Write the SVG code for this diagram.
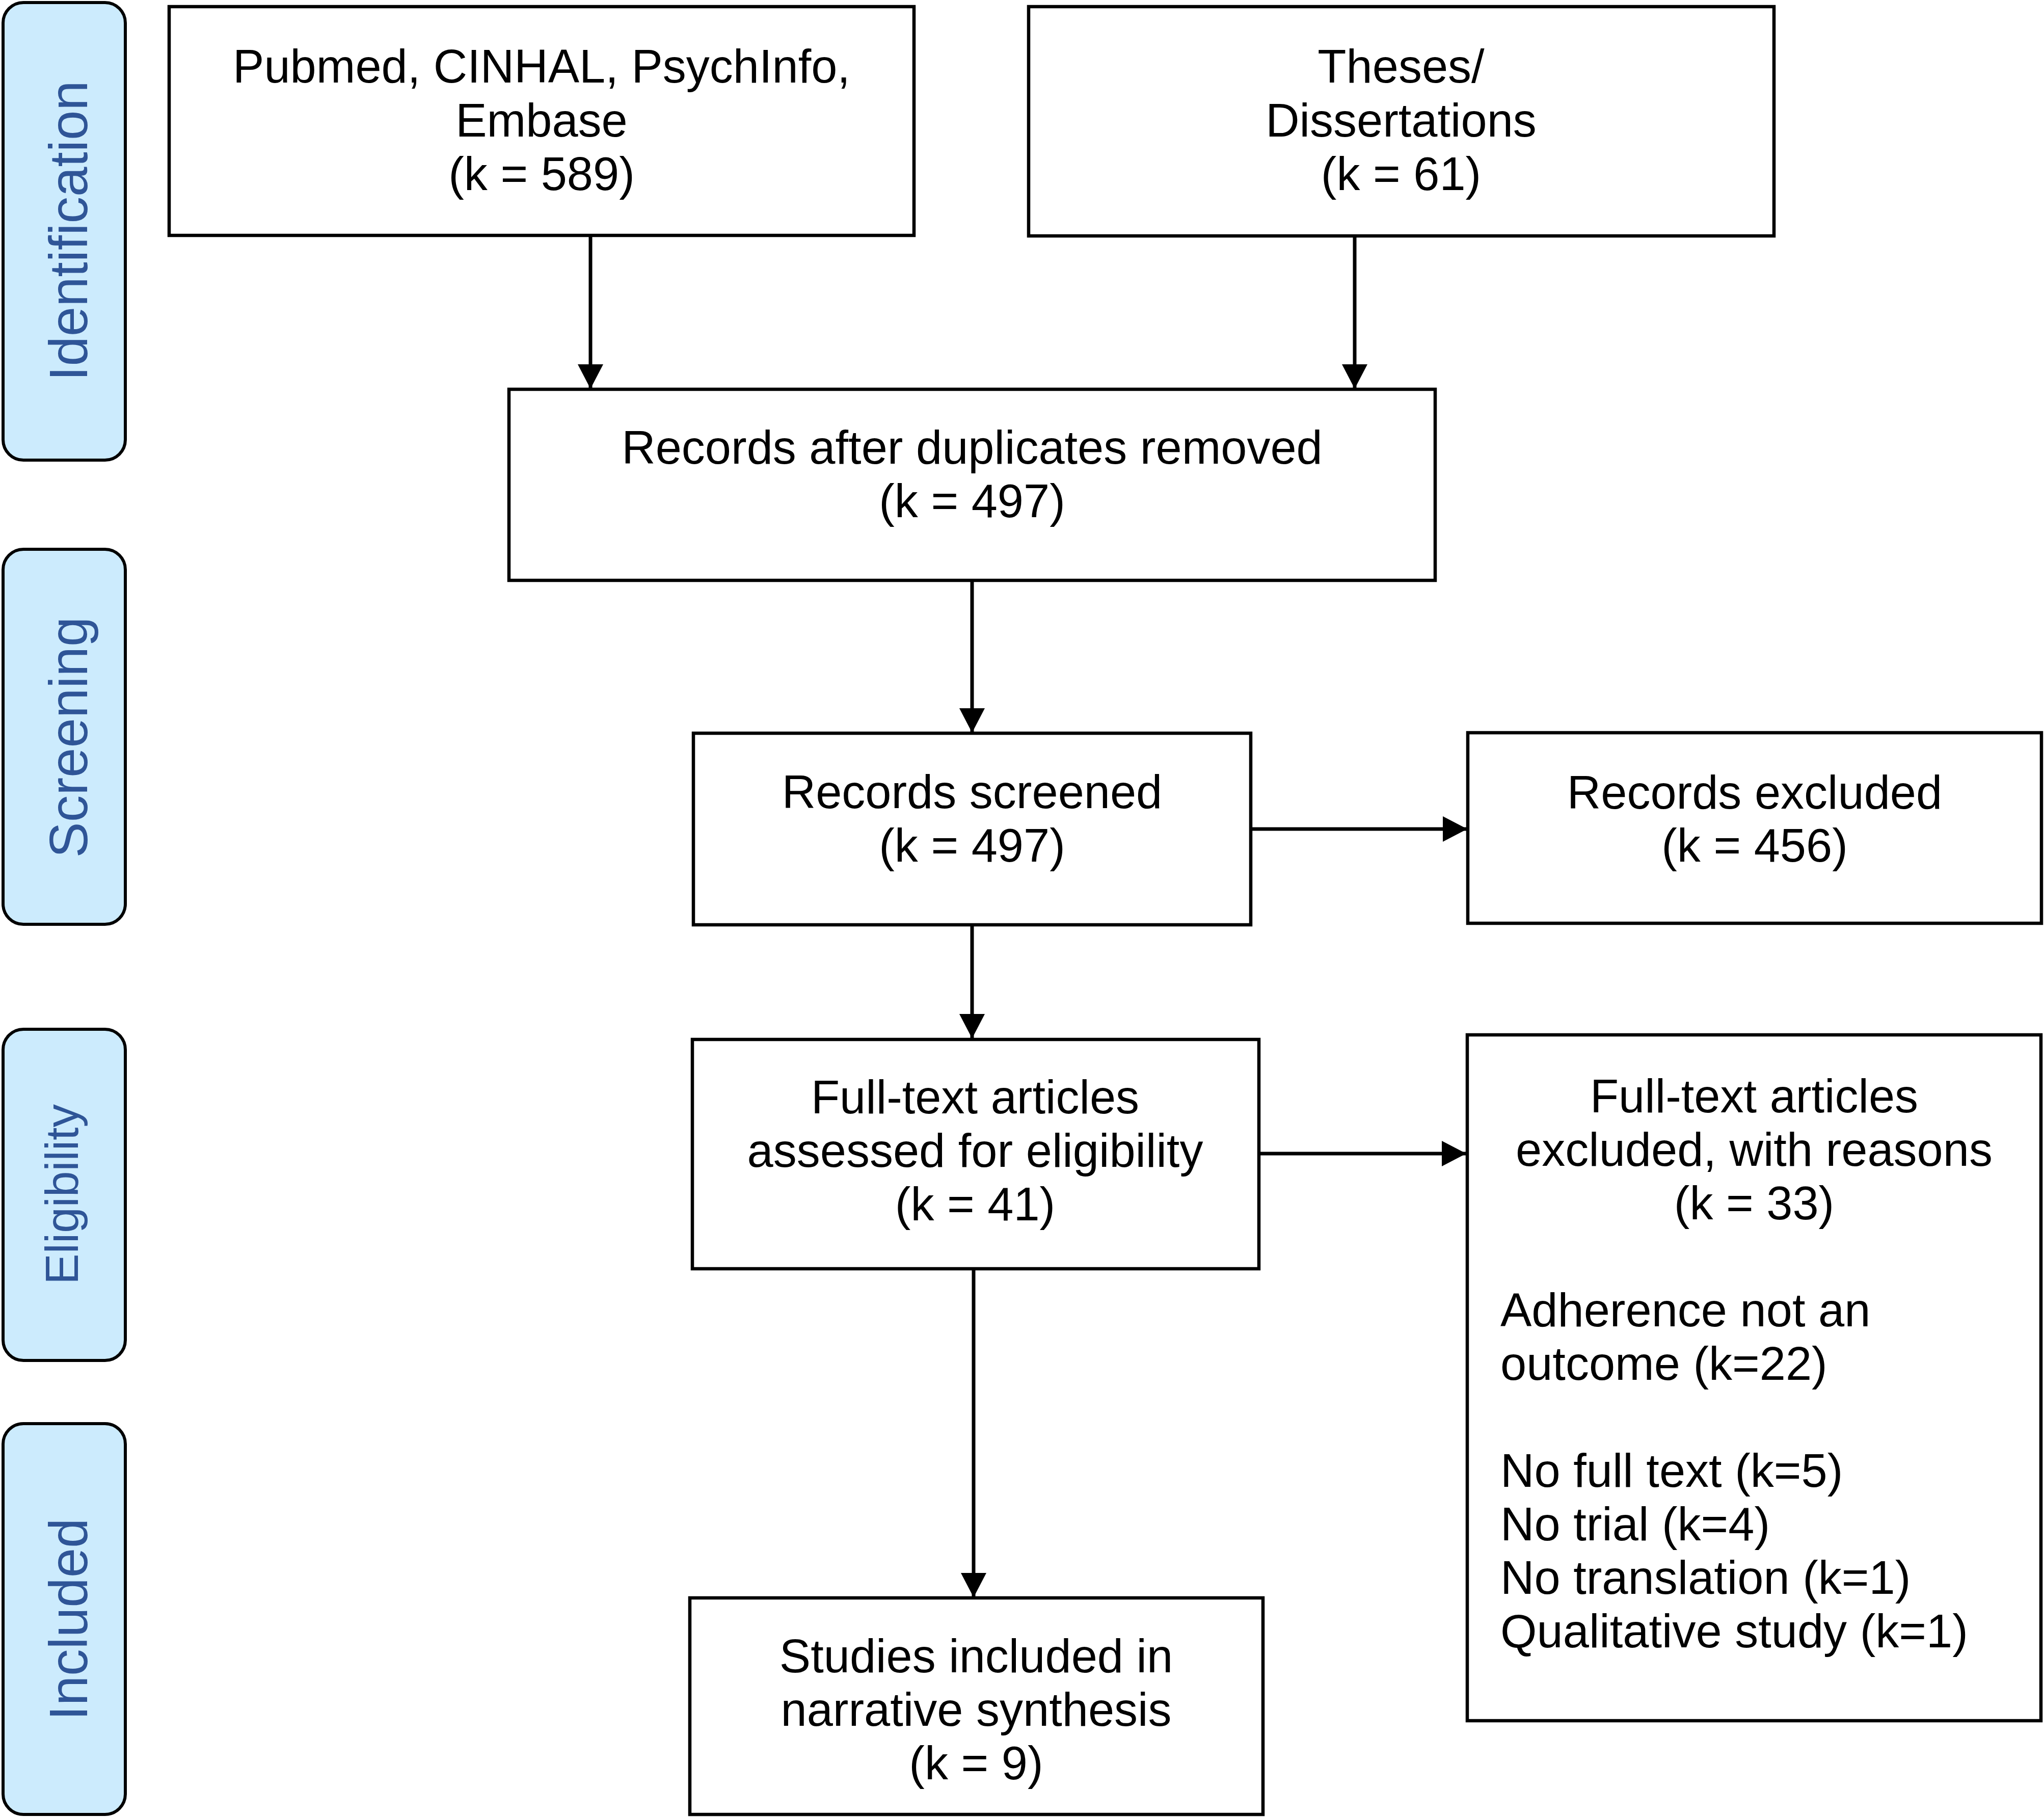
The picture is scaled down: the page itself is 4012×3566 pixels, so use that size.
<svg xmlns="http://www.w3.org/2000/svg" width="4012" height="3566" viewBox="0 0 4012 3566">
<style>
.box{fill:#fff;stroke:#000;stroke-width:6.5}
.side{fill:#CCEBFD;stroke:#000;stroke-width:6}
.t{font-family:"Liberation Sans",Arial,sans-serif;font-size:92px;fill:#000}
.c{text-anchor:middle}
.s{font-family:"Liberation Sans",Arial,sans-serif;font-size:105px;fill:#2F5597;text-anchor:middle}
.ln{stroke:#000;stroke-width:7;fill:none}
</style>
<defs>
<marker id="ah" markerUnits="userSpaceOnUse" markerWidth="48" markerHeight="50" refX="48" refY="25" orient="auto">
<path d="M0,0 L48,25 L0,50 Z" fill="#000"/>
</marker>
</defs>
<rect width="4012" height="3566" fill="#fff"/>
<g id="side-identification">
<rect class="side" x="6" y="5" width="240" height="898" rx="40" ry="40"/>
<text class="s" transform="translate(171,453) rotate(-90)">Identification</text>
</g>
<g id="side-screening">
<rect class="side" x="6" y="1078" width="240" height="736" rx="40" ry="40"/>
<text class="s" transform="translate(171,1447) rotate(-90)">Screening</text>
</g>
<g id="side-eligibility">
<rect class="side" x="6" y="2020" width="240" height="650" rx="40" ry="40"/>
<text class="s" style="font-size:91px" transform="translate(153,2344) rotate(-90)">Eligibility</text>
</g>
<g id="side-included">
<rect class="side" x="6" y="2794" width="240" height="767" rx="40" ry="40"/>
<text class="s" transform="translate(171,3178) rotate(-90)">Included</text>
</g>
<g id="n-pubmed">
<rect class="box" x="332" y="13" width="1462" height="449"/>
<text class="t c" x="1063" y="162">Pubmed, CINHAL, PsychInfo,</text>
<text class="t c" x="1063" y="268">Embase</text>
<text class="t c" x="1063" y="373">(k = 589)</text>
</g>
<g id="n-theses">
<rect class="box" x="2019" y="13" width="1463" height="450"/>
<text class="t c" x="2750" y="162">Theses/</text>
<text class="t c" x="2750" y="268">Dissertations</text>
<text class="t c" x="2750" y="373">(k = 61)</text>
</g>
<g id="n-dup">
<rect class="box" x="999" y="764" width="1818" height="375"/>
<text class="t c" x="1908" y="910">Records after duplicates removed</text>
<text class="t c" x="1908" y="1015">(k = 497)</text>
</g>
<g id="n-screened">
<rect class="box" x="1361" y="1439" width="1094" height="376"/>
<text class="t c" x="1908" y="1586">Records screened</text>
<text class="t c" x="1908" y="1691">(k = 497)</text>
</g>
<g id="n-excluded">
<rect class="box" x="2881" y="1438" width="1126" height="374"/>
<text class="t c" x="3444" y="1587">Records excluded</text>
<text class="t c" x="3444" y="1691">(k = 456)</text>
</g>
<g id="n-assessed">
<rect class="box" x="1359" y="2040" width="1112" height="450"/>
<text class="t c" x="1914" y="2185">Full-text articles</text>
<text class="t c" x="1914" y="2290">assessed for eligibility</text>
<text class="t c" x="1914" y="2395">(k = 41)</text>
</g>
<g id="n-ftexcluded">
<rect class="box" x="2880" y="2031" width="1126" height="1346"/>
<text class="t c" x="3443" y="2183">Full-text articles</text>
<text class="t c" x="3443" y="2288">excluded, with reasons</text>
<text class="t c" x="3443" y="2393">(k = 33)</text>
<text class="t" x="2945" y="2603">Adherence not an</text>
<text class="t" x="2945" y="2708">outcome (k=22)</text>
<text class="t" x="2945" y="2918">No full text (k=5)</text>
<text class="t" x="2945" y="3023">No trial (k=4)</text>
<text class="t" x="2945" y="3128">No translation (k=1)</text>
<text class="t" x="2945" y="3233">Qualitative study (k=1)</text>
</g>
<g id="n-included">
<rect class="box" x="1354" y="3136" width="1125" height="425"/>
<text class="t c" x="1916" y="3282">Studies included in</text>
<text class="t c" x="1916" y="3387">narrative synthesis</text>
<text class="t c" x="1916" y="3492">(k = 9)</text>
</g>
<g id="connectors">
<line class="ln" x1="1159" y1="462" x2="1159" y2="763" marker-end="url(#ah)"/>
<line class="ln" x1="2659" y1="463" x2="2659" y2="763" marker-end="url(#ah)"/>
<line class="ln" x1="1908" y1="1139" x2="1908" y2="1438" marker-end="url(#ah)"/>
<line class="ln" x1="2455" y1="1627" x2="2880" y2="1627" marker-end="url(#ah)"/>
<line class="ln" x1="1908" y1="1815" x2="1908" y2="2038" marker-end="url(#ah)"/>
<line class="ln" x1="2471" y1="2264" x2="2878" y2="2264" marker-end="url(#ah)"/>
<line class="ln" x1="1911" y1="2490" x2="1911" y2="3135" marker-end="url(#ah)"/>
</g>
</svg>
